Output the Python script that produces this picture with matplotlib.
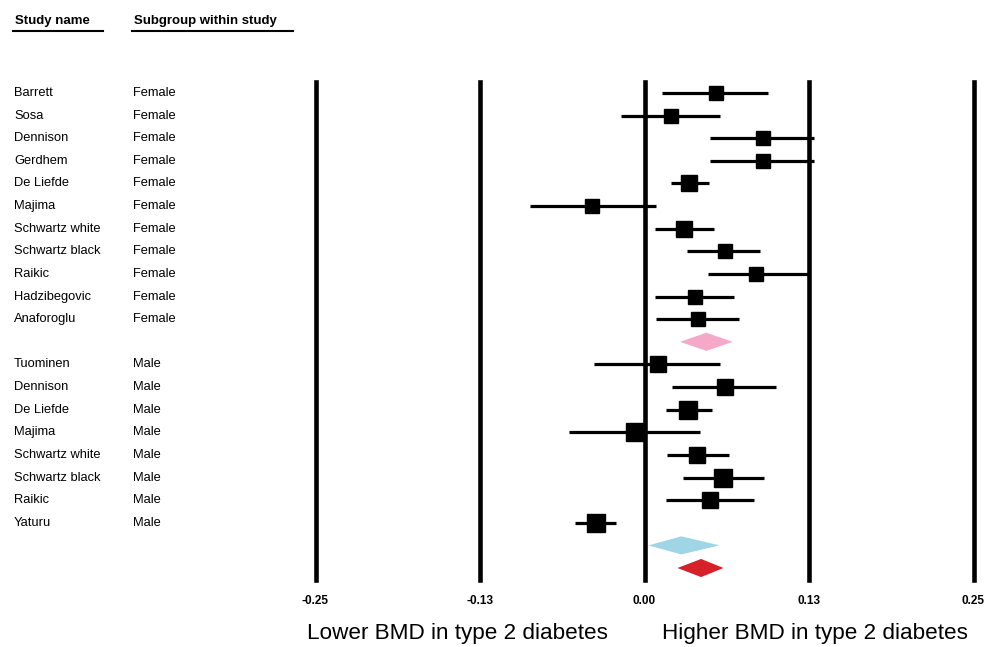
import matplotlib
matplotlib.use("Agg")
import matplotlib.pyplot as plt
from matplotlib.patches import Polygon
from matplotlib.transforms import blended_transform_factory

plt.rcParams['font.family'] = ['Liberation Sans', 'DejaVu Sans']

# ---- data ----
female_names = ["Barrett", "Sosa", "Dennison", "Gerdhem", "De Liefde", "Majima",
                "Schwartz white", "Schwartz black", "Raikic", "Hadzibegovic", "Anaforoglu"]
female_est = [0.054, 0.020, 0.090, 0.090, 0.034, -0.040, 0.030, 0.061, 0.085, 0.038, 0.041]
female_lo = [0.013, -0.018, 0.050, 0.050, 0.020, -0.087, 0.008, 0.032, 0.048, 0.008, 0.009]
female_hi = [0.094, 0.057, 0.129, 0.129, 0.049, 0.009, 0.053, 0.088, 0.124, 0.068, 0.072]
female_w = [14, 14, 14, 14, 17, 14, 17, 15, 14, 15, 15]

male_names = ["Tuominen", "Dennison", "De Liefde", "Majima", "Schwartz white",
              "Schwartz black", "Raikic", "Yaturu"]
male_est = [0.010, 0.061, 0.033, -0.007, 0.040, 0.060, 0.050, -0.037]
male_lo = [-0.038, 0.021, 0.016, -0.057, 0.017, 0.029, 0.016, -0.053]
male_hi = [0.057, 0.100, 0.051, 0.042, 0.064, 0.091, 0.083, -0.022]
male_w = [17, 16, 18, 19, 17, 18, 17, 18]

# pooled (estimate, lower, upper)
pooled_female = (0.047, 0.027, 0.067)
pooled_male = (0.028, 0.003, 0.057)
pooled_overall = (0.043, 0.025, 0.060)

tick_values = [-0.25, -0.125, 0.0, 0.125, 0.25]
tick_labels = ["-0.25", "-0.13", "0.00", "0.13", "0.25"]

# ---- figure ----
W, H = 1000, 647
fig = plt.figure(figsize=(W / 100, H / 100), dpi=100)
ax = fig.add_axes([0.3155, 67 / H, 0.658, 498 / H])
ax.set_xlim(-0.25, 0.25)
ax.set_ylim(21.53, -0.486)
for s in ax.spines.values():
    s.set_visible(False)
ax.set_yticks([])
ax.set_xticks(tick_values)
ax.set_xticklabels(tick_labels, fontsize=8.5, fontweight='bold')
ax.tick_params(axis='x', length=0, pad=11)

for xv in tick_values:
    ax.axvline(xv, color='black', lw=3.3, clip_on=False, zorder=1)

trans = blended_transform_factory(fig.transFigure, ax.transData)


def draw_rows(names, sub, est, lo, hi, w, start):
    for i, (nm, e, l, h, ww) in enumerate(zip(names, est, lo, hi, w)):
        y = start + i
        ax.plot([l, h], [y, y], color='black', lw=2.3, solid_capstyle='butt', zorder=3)
        ax.plot([e], [y], marker='s', color='black', markersize=ww * 0.7, zorder=4)
        ax.text(0.014, y, nm, transform=trans, fontsize=9.3, va='center', ha='left')
        ax.text(0.133, y, sub, transform=trans, fontsize=9.3, va='center', ha='left')


def diamond(pooled, y, color, half_h=0.4):
    e, l, h = pooled
    poly = Polygon([[l, y], [e, y - half_h], [h, y], [e, y + half_h]],
                   closed=True, facecolor=color, edgecolor='none', zorder=4)
    ax.add_patch(poly)


draw_rows(female_names, "Female", female_est, female_lo, female_hi, female_w, 0)
diamond(pooled_female, len(female_names), '#f6a8c8')
m0 = len(female_names) + 1
draw_rows(male_names, "Male", male_est, male_lo, male_hi, male_w, m0)
diamond(pooled_male, m0 + len(male_names), '#9fd5e5')
diamond(pooled_overall, m0 + len(male_names) + 1, '#d6202a')

# headers
fig.text(0.015, 1 - 21 / H, "Study name", fontsize=9.5, fontweight='bold', va='center', ha='left')
fig.text(0.134, 1 - 21 / H, "Subgroup within study", fontsize=9.5, fontweight='bold', va='center', ha='left')
fig.add_artist(plt.Line2D([0.013, 0.103], [1 - 31 / H] * 2, color='black', lw=1.5))
fig.add_artist(plt.Line2D([0.132, 0.293], [1 - 31 / H] * 2, color='black', lw=1.5))

# bottom annotations
fig.text(0.4575, 1 - 633 / H, "Lower BMD in type 2 diabetes", fontsize=16.2, va='center', ha='center')
fig.text(0.815, 1 - 633 / H, "Higher BMD in type 2 diabetes", fontsize=16.2, va='center', ha='center')

fig.savefig("out.png", dpi=100)
